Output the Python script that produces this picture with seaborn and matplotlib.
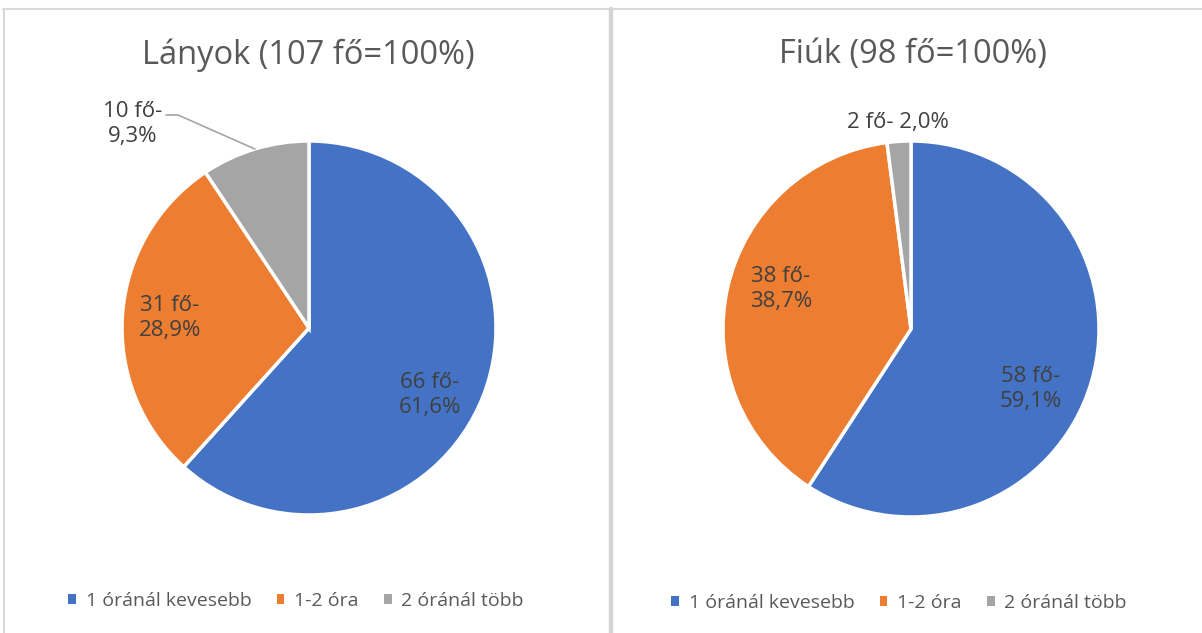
import matplotlib
matplotlib.use("Agg")
import matplotlib.pyplot as plt
import seaborn as sns
import numpy as np
from matplotlib.lines import Line2D

categories = ["1 óránál kevesebb", "1-2 óra", "2 óránál több"]
girls_values = [66, 31, 10]
boys_values = [58, 38, 2]
girls_labels = ["66 fő-\n61,6%", "31 fő-\n28,9%", "10 fő-\n9,3%"]
boys_labels = ["58 fő-\n59,1%", "38 fő-\n38,7%", "2 fő- 2,0%"]
titles = ["Lányok (107 fő=100%)", "Fiúk (98 fő=100%)"]
colors = ["#4472C4", "#ED7D31", "#A5A5A5"]

sns.set_theme(style="white")
plt.rcParams["font.family"] = ["Open Sans", "DejaVu Sans"]

W, H = 1202, 633
fig = plt.figure(figsize=(W / 100, H / 100), dpi=100)
fig.patch.set_facecolor("white")

def fx(x):
    return x / W

def fy(y):
    return 1 - y / H

# panel borders
border = "#D9D9D9"
fig.add_artist(Line2D([fx(3), fx(1202)], [fy(9), fy(9)], color=border, lw=1.5))
fig.add_artist(Line2D([fx(3.5), fx(3.5)], [fy(9), fy(633)], color=border, lw=1.5))
fig.add_artist(Line2D([fx(610.5), fx(610.5)], [fy(9), fy(633)], color="#D4D4D4", lw=3.2))

def draw_pie(cx, cy, r, values, labels, label_pos, title, title_x, legend_x, legend_y, leader=None):
    ax = fig.add_axes([fx(cx - r), fy(cy + r), 2 * r / W, 2 * r / H])
    wedges, _ = ax.pie(values, colors=colors, startangle=90, counterclock=False,
                       radius=1, wedgeprops=dict(edgecolor="white", linewidth=2.5))
    ax.set_xlim(-1, 1)
    ax.set_ylim(-1, 1)
    ax.set_aspect("equal")
    ax.axis("off")
    for lab, (lx, ly) in zip(labels, label_pos):
        fig.text(fx(lx), fy(ly), lab, ha="center", va="center", fontsize=16,
                 color="#404040", linespacing=1.3)
    fig.text(fx(title_x), fy(55), title, ha="center", va="center", fontsize=23.5,
             color="#595959")
    if leader is not None:
        w = wedges[leader[0]]
        mid = np.deg2rad((w.theta1 + w.theta2) / 2)
        ex = cx + r * np.cos(mid)
        ey = cy - r * np.sin(mid)
        (x0, y0), (x1, y1) = leader[1]
        fig.add_artist(Line2D([fx(x0), fx(x1), fx(ex)], [fy(y0), fy(y1), fy(ey)],
                              color="#A6A6A6", lw=1.2))
    leg = fig.legend(wedges, categories, loc="center", ncol=3,
                     bbox_to_anchor=(fx(legend_x), fy(legend_y)), frameon=False,
                     fontsize=14, handlelength=0.4, handleheight=0.4,
                     handletextpad=0.5, columnspacing=1.3,
                     labelcolor="#595959")
    for h in leg.legend_handles:
        h.set_edgecolor("none")
    return ax

draw_pie(309, 328, 187, girls_values, girls_labels,
         [(430, 395), (170, 318), (133, 124)], titles[0], 308, 296, 601,
         leader=(2, [(166, 115), (178, 115)]))
draw_pie(911, 329, 188, boys_values, boys_labels,
         [(1031, 389), (781, 289), (898, 122)], titles[1], 913, 899, 603)

fig.savefig("out.png", dpi=100, facecolor="white")
